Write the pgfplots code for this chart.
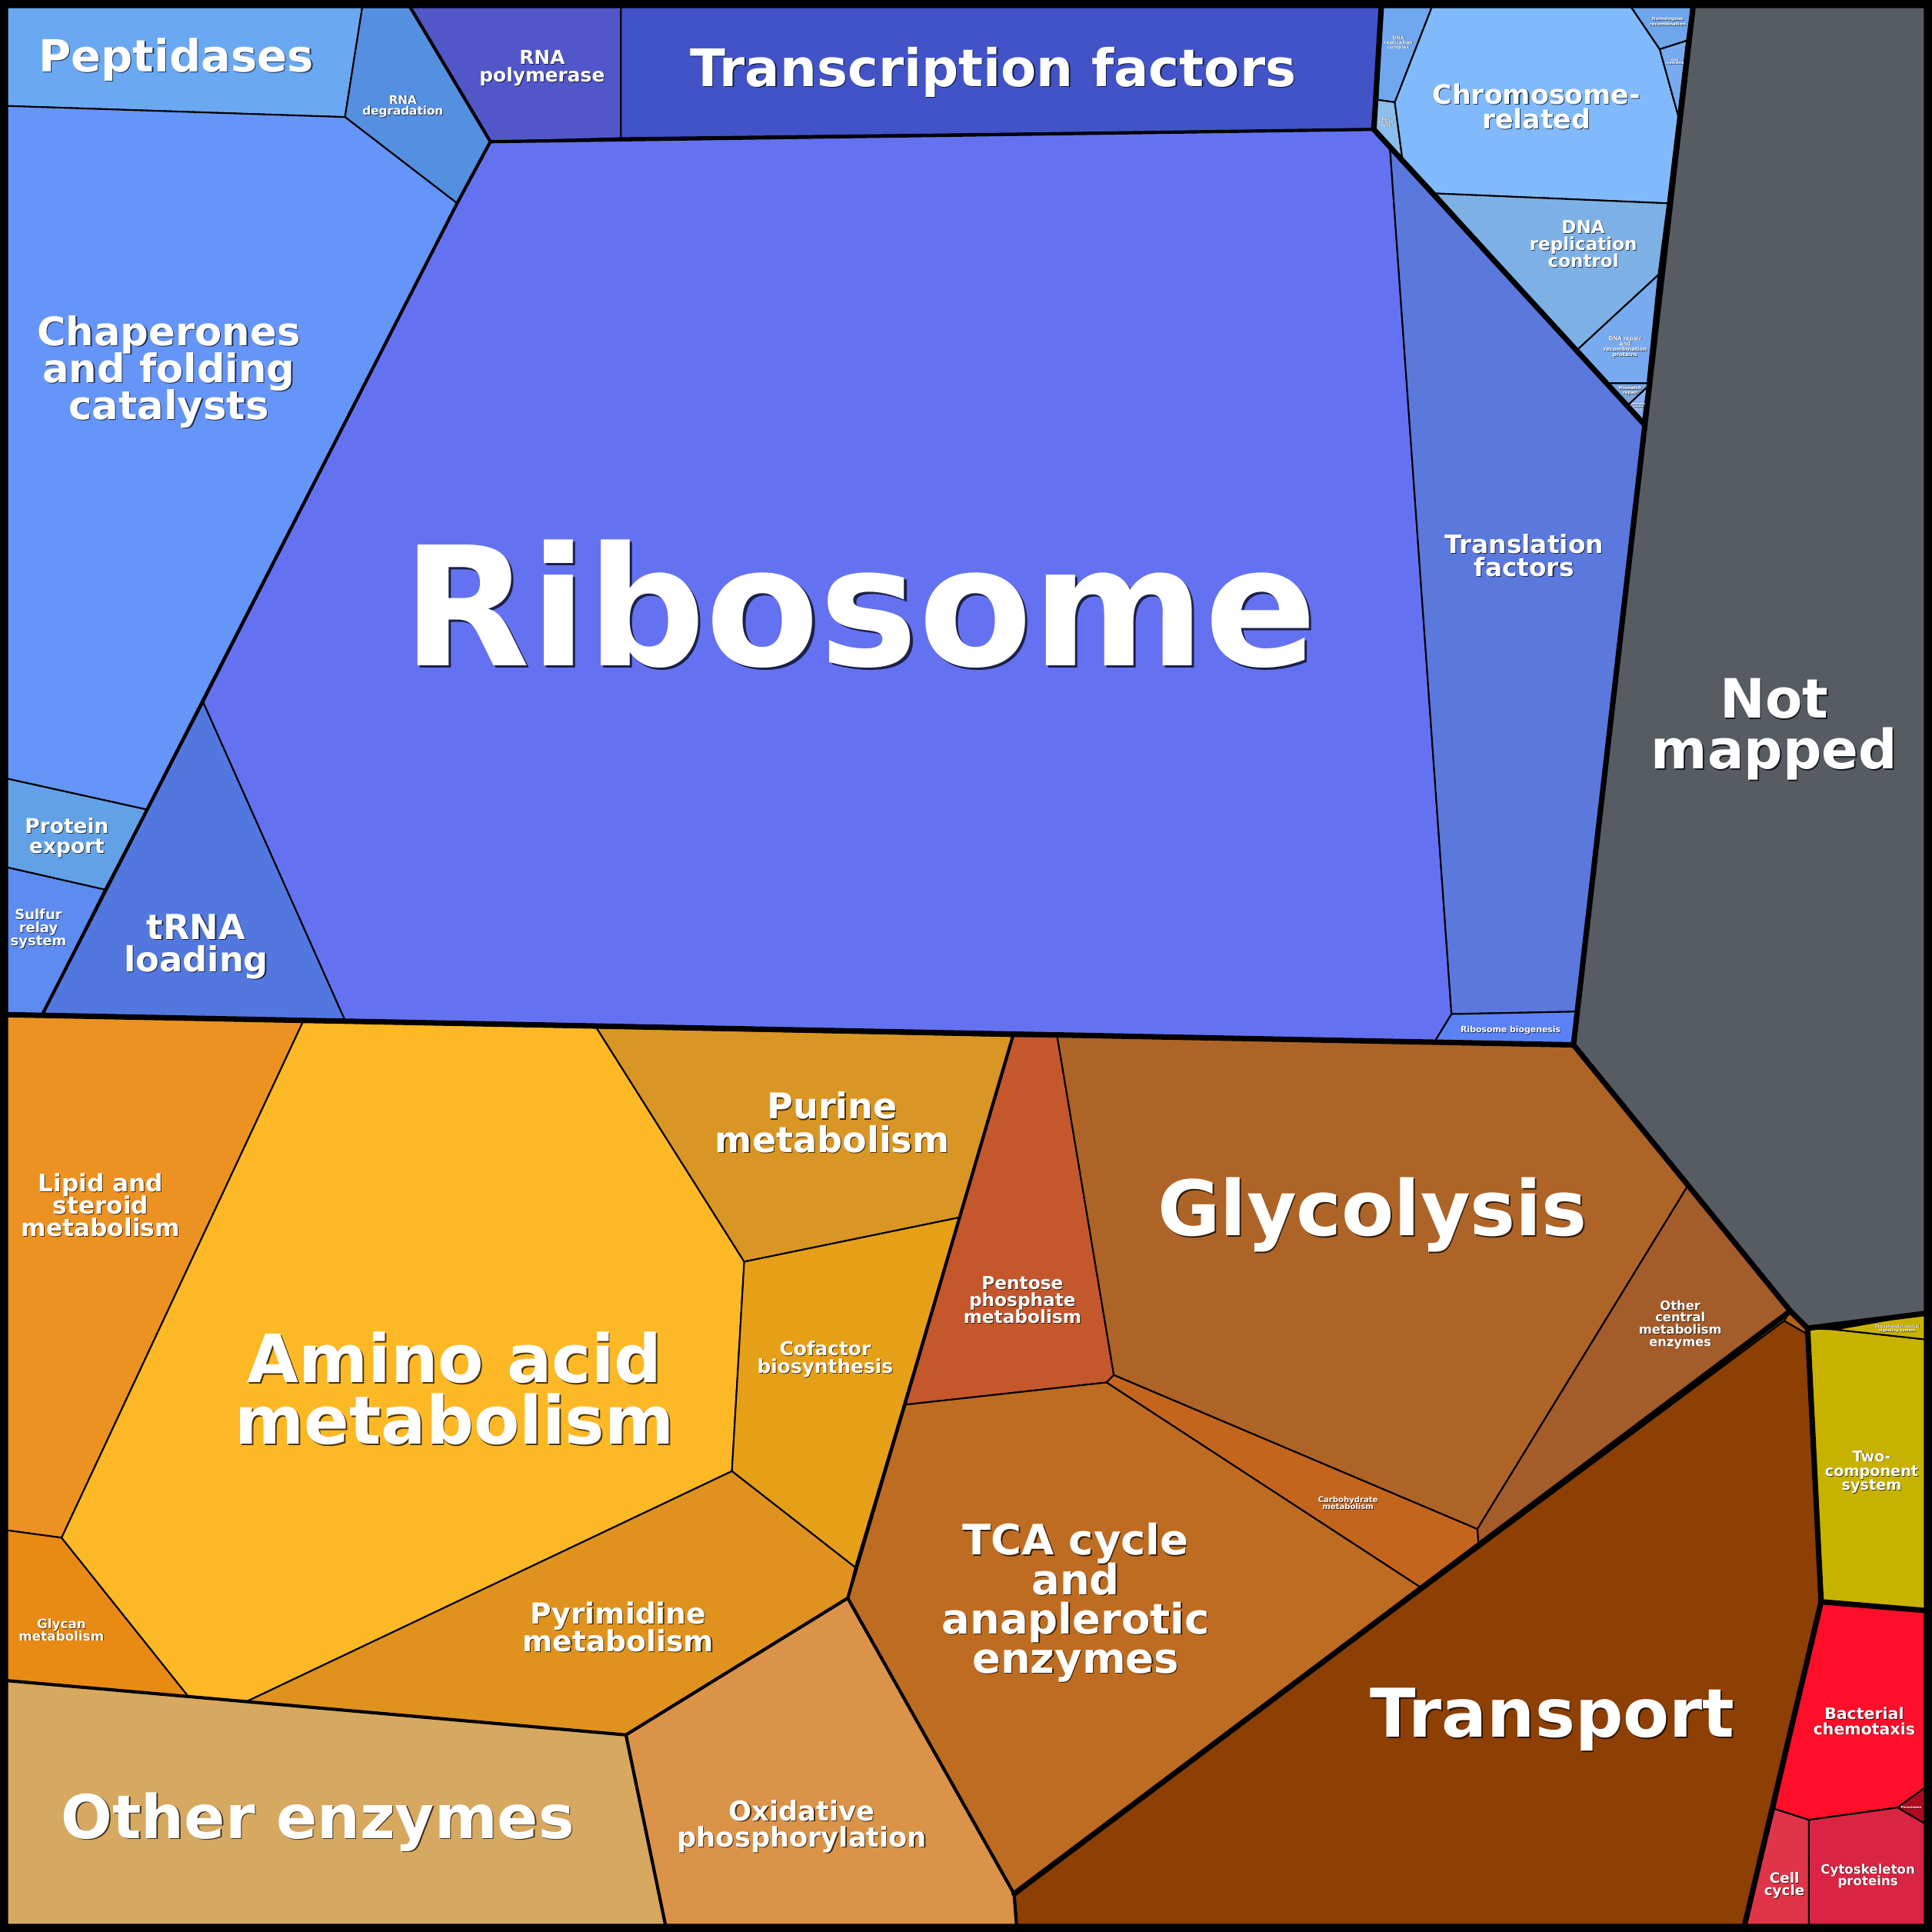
\documentclass[border=0pt]{standalone}
\usepackage{pgfplots}
\pgfplotsset{compat=1.18}
\usepackage{fontspec}
\setmainfont{DejaVu Sans}

% cell colours
\definecolor{pept}{HTML}{6AA8F2}
\definecolor{rnadeg}{HTML}{558FE0}
\definecolor{rnapol}{HTML}{5157C9}
\definecolor{tfac}{HTML}{4253C7}
\definecolor{chap}{HTML}{6595F9}
\definecolor{pexp}{HTML}{63A1E6}
\definecolor{sulf}{HTML}{5D8BEF}
\definecolor{trna}{HTML}{5278E0}
\definecolor{ribo}{HTML}{6472F2}
\definecolor{trans}{HTML}{5B78DC}
\definecolor{ribbio}{HTML}{5A82F5}
\definecolor{chrom}{HTML}{80BAFC}
\definecolor{dnactl}{HTML}{7DB1E6}
\definecolor{dnarep}{HTML}{78AAF0}
\definecolor{dnacpx}{HTML}{70A8F0}
\definecolor{baseex}{HTML}{8CBEEB}
\definecolor{homrec}{HTML}{6FA5EB}
\definecolor{mismat}{HTML}{7AA5DC}
\definecolor{nucex}{HTML}{8AB0F2}
\definecolor{notmap}{HTML}{565C62}
\definecolor{lipid}{HTML}{EC9222}
\definecolor{glycan}{HTML}{E88A14}
\definecolor{amino}{HTML}{FDB826}
\definecolor{purine}{HTML}{D99624}
\definecolor{cofac}{HTML}{E6A018}
\definecolor{pyrim}{HTML}{E0921E}
\definecolor{othenz}{HTML}{D6A860}
\definecolor{oxphos}{HTML}{DA9348}
\definecolor{pentose}{HTML}{C4572C}
\definecolor{glyco}{HTML}{AE6427}
\definecolor{othcen}{HTML}{A45C2A}
\definecolor{carbo}{HTML}{C4651E}
\definecolor{tca}{HTML}{BE6C22}
\definecolor{transp}{HTML}{8D3F04}
\definecolor{tinyc}{HTML}{B0601C}
\definecolor{twocomp}{HTML}{C8B200}
\definecolor{chemo}{HTML}{FF0E2A}
\definecolor{perox}{HTML}{B00A1E}
\definecolor{cellcy}{HTML}{E03548}
\definecolor{cytosk}{HTML}{DA2444}

% one line of label: x, baseline y, font size (pt), text
\newcommand{\lab}[4]{%
  \node[anchor=base, inner sep=0pt, text=black, text opacity=0.7,
        font={\fontsize{#3}{#3}\selectfont\bfseries},
        xshift={#3*0.012pt+0.4pt}, yshift={-#3*0.012pt-0.4pt}] at (axis cs:#1,#2) {#4};
  \node[anchor=base, inner sep=0pt, text=white,
        font={\fontsize{#3}{#3}\selectfont\bfseries}] at (axis cs:#1,#2) {#4};}

\begin{document}
\begin{tikzpicture}
\begin{axis}[
    width=1568pt, height=1568pt, scale only axis,
    xmin=0, xmax=1568, ymin=0, ymax=1568,
    y dir=reverse, hide axis, clip=false,
    cell/.style={draw=black, line width=1.3pt, line join=round},
    heavy/.style={draw=black, line width=4.4pt, line join=round, line cap=round},
    medium/.style={draw=black, line width=2.6pt, line join=round, line cap=round},
]
% frame
\addplot[fill=black, draw=none] coordinates {(0,0) (1568,0) (1568,1568) (0,1568)} --cycle;

% genetic information processing
\addplot[cell, fill=pept] coordinates {(6,6) (294,6) (280,95) (6,86)} --cycle;
\addplot[cell, fill=rnadeg] coordinates {(294,6) (333,6) (398,115) (371,165) (280,95)} --cycle;
\addplot[cell, fill=rnapol] coordinates {(333,6) (504,6) (504,112) (398,115)} --cycle;
\addplot[cell, fill=tfac] coordinates {(504,6) (1121,6) (1115,105) (504,112)} --cycle;
\addplot[cell, fill=chap] coordinates {(6,86) (280,95) (371,165) (119,657) (6,632)} --cycle;
\addplot[cell, fill=pexp] coordinates {(6,632) (119,657) (85,722) (6,704)} --cycle;
\addplot[cell, fill=sulf] coordinates {(6,704) (85,722) (34,824) (6,823)} --cycle;
\addplot[cell, fill=trna] coordinates {(165,570) (280,828) (34,824)} --cycle;
\addplot[cell, fill=ribo] coordinates {(398,115) (1115,105) (1128,119) (1178,823) (1164,846) (280,828) (165,570) (371,165)} --cycle;
\addplot[cell, fill=trans] coordinates {(1128,119) (1335,345) (1279.5,821) (1178,823)} --cycle;
\addplot[cell, fill=ribbio] coordinates {(1178,823) (1279.5,821) (1277,848) (1164,846)} --cycle;
\addplot[cell, fill=dnacpx] coordinates {(1121,6) (1162,6) (1132,83) (1118,81)} --cycle;
\addplot[cell, fill=baseex] coordinates {(1118,81) (1132,83) (1138,128) (1115,105)} --cycle;
\addplot[cell, fill=chrom] coordinates {(1162,6) (1324,6) (1347,40) (1362,94) (1353.5,165) (1165,157) (1138,128) (1132,83)} --cycle;
\addplot[cell, fill=homrec] coordinates {(1324,6) (1373,6) (1369,33) (1347,40)} --cycle;
\addplot[cell, fill=dnarep] coordinates {(1347,40) (1369,33) (1362,94)} --cycle;
\addplot[cell, fill=dnactl] coordinates {(1165,157) (1353.5,165) (1346,223) (1280,284)} --cycle;
\addplot[cell, fill=dnarep] coordinates {(1280,284) (1346,223) (1337,311) (1304,311)} --cycle;
\addplot[cell, fill=mismat] coordinates {(1304,311) (1337,311) (1337,314) (1321,329)} --cycle;
\addplot[cell, fill=nucex] coordinates {(1321,329) (1337,314) (1333,344)} --cycle;

\addplot[cell, fill=notmap] coordinates {(1374,6) (1562,6) (1562,1066) (1467,1078) (1453,1064) (1370,962) (1277,848)} --cycle;

% metabolism
\addplot[cell, fill=lipid] coordinates {(6,824) (246,829) (50,1248) (6,1242)} --cycle;
\addplot[cell, fill=glycan] coordinates {(6,1242) (50,1248) (153,1377) (6,1364)} --cycle;
\addplot[cell, fill=amino] coordinates {(246,829) (484,834) (604,1024) (594,1194) (200,1381) (153,1377) (50,1248)} --cycle;
\addplot[cell, fill=purine] coordinates {(484,834) (822,841) (779,988) (604,1024)} --cycle;
\addplot[cell, fill=cofac] coordinates {(604,1024) (779,988) (694,1272) (594,1194)} --cycle;
\addplot[cell, fill=pyrim] coordinates {(594,1194) (694,1272) (688,1297) (508,1408) (200,1381)} --cycle;
\addplot[cell, fill=othenz] coordinates {(6,1364) (153,1377) (200,1381) (508,1408) (540,1562) (6,1562)} --cycle;
\addplot[cell, fill=oxphos] coordinates {(508,1408) (688,1297) (823,1537) (825,1562) (540,1562)} --cycle;
\addplot[cell, fill=pentose] coordinates {(822,841) (858,841) (904,1116) (898,1122) (735,1140)} --cycle;
\addplot[cell, fill=glyco] coordinates {(858,841) (1277,848) (1370,962) (1199,1241) (904,1116)} --cycle;
\addplot[cell, fill=othcen] coordinates {(1370,962) (1453,1064) (1448,1072) (1200,1255) (1199,1241)} --cycle;
\addplot[cell, fill=tinyc] coordinates {(1448,1072) (1453,1064) (1467,1078) (1467,1083)} --cycle;
\addplot[cell, fill=carbo] coordinates {(904,1116) (1199,1241) (1200,1255) (1154,1289) (898,1122)} --cycle;
\addplot[cell, fill=tca] coordinates {(735,1140) (898,1122) (1154,1289) (823,1537) (688,1297)} --cycle;
\addplot[cell, fill=transp] coordinates {(823,1537) (1448,1072) (1467,1083) (1478,1300) (1416,1562) (825,1562)} --cycle;

% environmental and cellular processes
\addplot[cell, fill=twocomp] coordinates {(1467,1078) (1489,1079) (1562,1087) (1562,1306) (1478,1300)} --cycle;
\addplot[cell, fill=twocomp] coordinates {(1489,1079) (1562,1066) (1562,1087)} --cycle;
\addplot[cell, fill=chemo] coordinates {(1478,1301) (1562,1307) (1562,1451) (1540,1467) (1468,1477) (1440,1468)} --cycle;
\addplot[cell, fill=perox] coordinates {(1540,1467) (1562,1451) (1562,1480)} --cycle;
\addplot[cell, fill=cellcy] coordinates {(1440,1468) (1468,1477) (1468,1562) (1416,1562)} --cycle;
\addplot[cell, fill=cytosk] coordinates {(1468,1477) (1540,1467) (1562,1480) (1562,1562) (1468,1562)} --cycle;

% group borders
\addplot[medium] coordinates {(333,6) (398,115) (1115,105)};
\addplot[medium] coordinates {(398,115) (371,165) (34,824)};
\addplot[medium] coordinates {(822,841) (688,1297) (508,1408) (6,1364)};
\addplot[medium] coordinates {(508,1408) (540,1562)};
\addplot[medium] coordinates {(688,1297) (823,1537) (825,1562)};
\addplot[heavy] coordinates {(6,823.5) (1277,848)};
\addplot[heavy] coordinates {(1121,6) (1115,105) (1335,345)};
\addplot[heavy] coordinates {(1374,6) (1277,848) (1370,962) (1453,1064) (1467,1078) (1562,1066)};
\addplot[heavy] coordinates {(823,1537) (1453,1064)};
\addplot[heavy] coordinates {(1467,1078) (1478,1300) (1416,1562)};
\addplot[heavy] coordinates {(1478,1300) (1562,1307)};

% labels
\lab{143}{58.3}{36}{Peptidases}
\lab{327}{84.3}{9.5}{RNA}
\lab{327}{93.6}{9.5}{degradation}
\lab{440}{52}{15.5}{RNA}
\lab{440}{66.3}{15.5}{polymerase}
\lab{806}{70}{42}{Transcription factors}
\lab{1247}{84.7}{21.7}{Chromosome-}
\lab{1247}{104.8}{21.7}{related}
\lab{1285}{189.5}{14.4}{DNA}
\lab{1285}{203}{14.4}{replication}
\lab{1285}{216.7}{14.4}{control}
\lab{1319}{276}{4.3}{DNA repair}
\lab{1319}{280.4}{4.3}{and}
\lab{1319}{284.9}{4.3}{recombination}
\lab{1319}{289.3}{4.3}{proteins}
\lab{1135}{31.9}{3.8}{DNA}
\lab{1135}{35.7}{3.8}{replication}
\lab{1135}{39.5}{3.8}{complex}
\lab{1125}{97.4}{2.5}{Base}
\lab{1125}{99.9}{2.5}{excision}
\lab{1125}{102.5}{2.5}{repair}
\lab{1353.5}{16.6}{3.6}{Homologous}
\lab{1353.5}{20.8}{3.6}{recombination}
\lab{1359.5}{49.5}{2.4}{DNA}
\lab{1359.5}{52.4}{2.4}{replication}
\lab{1323}{316.3}{3.4}{Mismatch}
\lab{1323}{319.8}{3.4}{repair}
\lab{1330}{328.7}{1.8}{Nucleotide}
\lab{1330}{330.8}{1.8}{excision}
\lab{1330}{332.9}{1.8}{repair}
\lab{1237}{449}{20.5}{Translation}
\lab{1237}{468}{20.5}{factors}
\lab{1226}{838}{6.8}{Ribosome biogenesis}
\lab{137}{280.5}{32}{Chaperones}
\lab{137}{310.5}{32}{and folding}
\lab{137}{340.5}{32}{catalysts}
\lab{698}{540}{134.5}{Ribosome}
\lab{54.3}{676.6}{16.5}{Protein}
\lab{54.3}{692.4}{16.5}{export}
\lab{31.2}{746.5}{11.2}{Sulfur}
\lab{31.2}{756.9}{11.2}{relay}
\lab{31.2}{767.3}{11.2}{system}
\lab{159.2}{762.6}{28}{tRNA}
\lab{159.2}{788.6}{28}{loading}
\lab{1440}{583}{44}{Not}
\lab{1440}{624}{44}{mapped}
\lab{81.7}{967.4}{19.5}{Lipid and}
\lab{81.7}{985.5}{19.5}{steroid}
\lab{81.7}{1003.6}{19.5}{metabolism}
\lab{49.9}{1321.9}{10.5}{Glycan}
\lab{49.9}{1331.5}{10.5}{metabolism}
\lab{369}{1122}{54}{Amino acid}
\lab{369}{1172}{54}{metabolism}
\lab{675.5}{908.2}{28.8}{Purine}
\lab{675.5}{935.3}{28.8}{metabolism}
\lab{669.7}{1100.3}{15.5}{Cofactor}
\lab{669.7}{1114.8}{15.5}{biosynthesis}
\lab{829.8}{1046.6}{14.5}{Pentose}
\lab{829.8}{1060.1}{14.5}{phosphate}
\lab{829.8}{1074.1}{14.5}{metabolism}
\lab{501.8}{1318.1}{23.5}{Pyrimidine}
\lab{501.8}{1340.4}{23.5}{metabolism}
\lab{258}{1492}{49}{Other enzymes}
\lab{650.9}{1477.9}{22}{Oxidative}
\lab{650.9}{1499.1}{22}{phosphorylation}
\lab{1114}{1003}{62}{Glycolysis}
\lab{1363.7}{1063.2}{10.2}{Other}
\lab{1363.7}{1072.8}{10.2}{central}
\lab{1363.7}{1082.6}{10.2}{metabolism}
\lab{1363.7}{1092.4}{10.2}{enzymes}
\lab{1094}{1219.3}{6.3}{Carbohydrate}
\lab{1094}{1225.1}{6.3}{metabolism}
\lab{873}{1262}{34}{TCA cycle}
\lab{873}{1294}{34}{and}
\lab{873}{1326}{34}{anaplerotic}
\lab{873}{1358}{34}{enzymes}
\lab{1260}{1410}{54.5}{Transport}
\lab{1519}{1186}{12}{Two-}
\lab{1519}{1198}{12}{component}
\lab{1519}{1209.5}{12}{system}
\lab{1539.7}{1077.4}{3.1}{Phosphatidylinositol}
\lab{1539.7}{1080.9}{3.1}{signaling system}
\lab{1513}{1395.7}{12.8}{Bacterial}
\lab{1513}{1407.6}{12.8}{chemotaxis}
\lab{1551.2}{1468}{2.5}{Peroxisome}
\lab{1448.2}{1528.3}{11.5}{Cell}
\lab{1448.2}{1538.4}{11.5}{cycle}
\lab{1516}{1520.6}{10.4}{Cytoskeleton}
\lab{1516}{1530}{10.4}{proteins}
\end{axis}
\end{tikzpicture}
\end{document}
